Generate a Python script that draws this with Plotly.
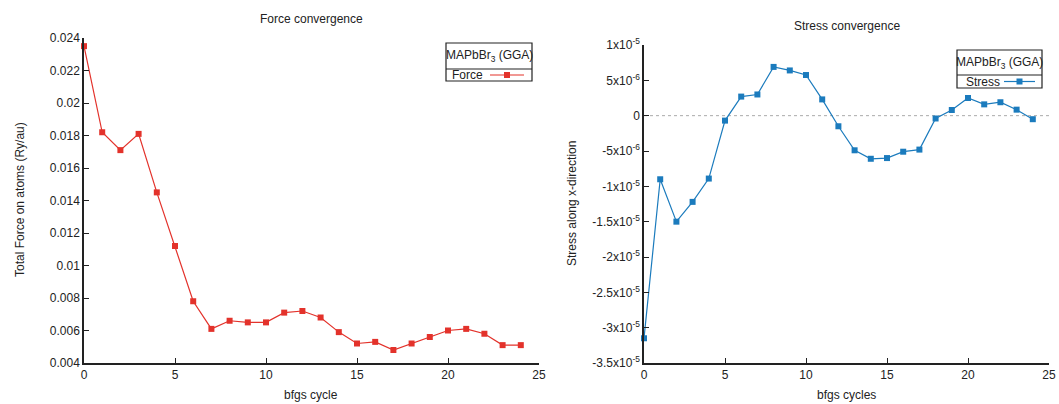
import plotly.graph_objects as go

# BFGS relaxation history for MAPbBr3 (GGA)
cycles = list(range(25))
force = [0.0235, 0.0182, 0.0171, 0.0181, 0.0145, 0.0112, 0.0078, 0.0061, 0.0066,
         0.0065, 0.0065, 0.0071, 0.0072, 0.0068, 0.0059, 0.0052, 0.0053, 0.0048,
         0.0052, 0.0056, 0.0060, 0.0061, 0.0058, 0.0051, 0.0051]
stress = [-3.15e-5, -9.0e-6, -1.5e-5, -1.22e-5, -8.9e-6, -7e-7, 2.7e-6, 3.0e-6, 6.9e-6,
          6.4e-6, 5.75e-6, 2.3e-6, -1.5e-6, -4.9e-6, -6.1e-6, -6.0e-6, -5.1e-6, -4.8e-6,
          -4e-7, 8e-7, 2.5e-6, 1.6e-6, 1.9e-6, 8.5e-7, -5e-7]

force_ticks = [0.004, 0.006, 0.008, 0.01, 0.012, 0.014, 0.016, 0.018, 0.02, 0.022, 0.024]
force_labels = ["0.004", "0.006", "0.008", "0.01", "0.012", "0.014", "0.016", "0.018",
                "0.02", "0.022", "0.024"]
stress_ticks = [-3.5e-5, -3e-5, -2.5e-5, -2e-5, -1.5e-5, -1e-5, -5e-6, 0, 5e-6, 1e-5]
stress_labels = ["-3.5x10<sup>-5</sup>", "-3x10<sup>-5</sup>", "-2.5x10<sup>-5</sup>",
                 "-2x10<sup>-5</sup>", "-1.5x10<sup>-5</sup>", "-1x10<sup>-5</sup>",
                 "-5x10<sup>-6</sup>", "0", "5x10<sup>-6</sup>", "1x10<sup>-5</sup>"]
x_ticks = [0, 5, 10, 15, 20, 25]

RED = "#e3322b"
BLUE = "#1b7bbd"
W, H = 1059, 404
FONT = "Liberation Sans, Arial, sans-serif"


def px(x):
    return x / W


def py(y):
    return 1 - y / H


fig = go.Figure()
fig.add_trace(go.Scatter(x=cycles, y=force, mode="lines+markers", name="Force",
                         line=dict(color=RED, width=1.2),
                         marker=dict(symbol="square", size=6, color=RED),
                         cliponaxis=False, xaxis="x", yaxis="y"))
fig.add_trace(go.Scatter(x=cycles, y=stress, mode="lines+markers", name="Stress",
                         line=dict(color=BLUE, width=1.2),
                         marker=dict(symbol="square", size=6, color=BLUE),
                         cliponaxis=False, xaxis="x2", yaxis="y2"))

axis_common = dict(showline=True, linecolor="#222", linewidth=1.5, ticks="inside",
                   ticklen=5, tickcolor="#222", showgrid=False, zeroline=False,
                   tickfont=dict(size=12, color="#222", family=FONT), mirror=False,
                   automargin=False)

fig.update_layout(
    width=W, height=H, margin=dict(l=0, r=0, t=0, b=0, pad=0),
    paper_bgcolor="white", plot_bgcolor="white", showlegend=False,
    font=dict(family=FONT, color="#222"),
    xaxis=dict(domain=[px(84), px(539)], range=[0, 25], tickvals=x_ticks,
               anchor="y", **axis_common),
    yaxis=dict(domain=[py(363), py(38)], range=[0.004, 0.024], tickvals=force_ticks,
               ticktext=force_labels, anchor="x", **axis_common),
    xaxis2=dict(domain=[px(644), px(1049)], range=[0, 25], tickvals=x_ticks,
                anchor="y2", **axis_common),
    yaxis2=dict(domain=[py(363), py(45)], range=[-3.5e-5, 1e-5], tickvals=stress_ticks,
                ticktext=stress_labels, anchor="x2", **axis_common),
)

# dotted zero reference in the stress panel
fig.add_shape(type="line", xref="x2 domain", yref="y2", x0=0, x1=1, y0=0, y1=0,
              line=dict(color="#aaaaaa", width=1, dash="dot"), layer="below")

text_font = dict(size=12, color="#222", family=FONT)
annotations = [
    ("Force convergence", px(311), py(19), 0),
    ("Stress convergence", px(847), py(26), 0),
    ("bfgs cycle", px(311), py(395), 0),
    ("bfgs cycles", px(846), py(395), 0),
    ("Total Force on atoms (Ry/au)", px(20), py(200), -90),
    ("Stress along x-direction", px(572), py(204), -90),
]
for txt, xx, yy, ang in annotations:
    fig.add_annotation(text=txt, x=xx, y=yy, xref="paper", yref="paper",
                       showarrow=False, textangle=ang, font=text_font,
                       xanchor="center", yanchor="middle")


def key_box(x0, x1, y0, y1, ysep, label, tx, lx0, lx1, color):
    fig.add_shape(type="rect", xref="paper", yref="paper", x0=px(x0), x1=px(x1),
                  y0=py(y1), y1=py(y0), line=dict(color="#222", width=1.2),
                  fillcolor="white")
    fig.add_shape(type="line", xref="paper", yref="paper", x0=px(x0), x1=px(x1),
                  y0=py(ysep), y1=py(ysep), line=dict(color="#222", width=1.2))
    fig.add_annotation(text="MAPbBr<sub>3</sub> (GGA)", x=px((x0 + x1) / 2),
                       y=py((y0 + ysep) / 2), xref="paper", yref="paper",
                       showarrow=False, font=text_font, xanchor="center", yanchor="middle")
    ym = (ysep + y1) / 2
    fig.add_annotation(text=label, x=px(tx), y=py(ym), xref="paper", yref="paper",
                       showarrow=False, font=text_font, xanchor="left", yanchor="middle")
    fig.add_shape(type="line", xref="paper", yref="paper", x0=px(lx0), x1=px(lx1),
                  y0=py(ym), y1=py(ym), line=dict(color=color, width=1.2))
    mx = (lx0 + lx1) / 2
    fig.add_shape(type="rect", xref="paper", yref="paper", x0=px(mx - 3), x1=px(mx + 3),
                  y0=py(ym + 3), y1=py(ym - 3), line=dict(width=0), fillcolor=color)


key_box(446, 532, 43, 81, 69, "Force", 450, 490, 524, RED)
key_box(957, 1042, 50, 88, 75, "Stress", 964, 1004, 1035, BLUE)

# the page body gets no default margin so the figure fills the window exactly
fig.write_html("out.html",
               post_script="document.body.style.margin='0';"
                           "document.body.style.overflow='hidden';")
